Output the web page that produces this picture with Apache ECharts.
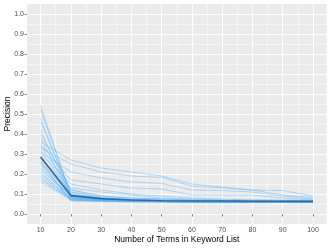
<!DOCTYPE html>
<html><head><meta charset="utf-8">
<script src="https://cdn.jsdelivr.net/npm/echarts@6/dist/echarts.min.js"></script>
<style>html,body{margin:0;padding:0;background:#fff}#c{width:332px;height:249px}</style>
</head><body><div id="c"></div>
<script>
const xValues = [10,20,30,40,50,60,70,80,90,100];
const xTicks = [10,20,30,40,50,60,70,80,90,100];
const xMinor = [15,25,35,45,55,65,75,85,95];
const yTicks = [0,0.1,0.2,0.3,0.4,0.5,0.6,0.7,0.8,0.9,1.0];
const yMinor = [0.05,0.15,0.25,0.35,0.45,0.55,0.65,0.75,0.85,0.95];

const s1 = [0.54,0.09,0.07,0.065,0.062,0.06,0.06,0.06,0.06,0.06];
const s2 = [0.52,0.10,0.075,0.07,0.065,0.063,0.062,0.062,0.061,0.06];
const s3 = [0.48,0.08,0.07,0.065,0.063,0.062,0.061,0.061,0.06,0.06];
const s4 = [0.46,0.11,0.08,0.07,0.068,0.066,0.065,0.064,0.063,0.062];
const s5 = [0.42,0.09,0.072,0.066,0.063,0.062,0.061,0.06,0.06,0.06];
const s6 = [0.40,0.12,0.09,0.08,0.075,0.07,0.068,0.066,0.065,0.064];
const s7 = [0.38,0.085,0.07,0.066,0.064,0.063,0.062,0.061,0.061,0.06];
const s8 = [0.36,0.27,0.23,0.21,0.19,0.15,0.135,0.12,0.117,0.09];
const s9 = [0.33,0.25,0.21,0.19,0.183,0.14,0.13,0.12,0.095,0.082];
const s10 = [0.31,0.21,0.18,0.16,0.153,0.12,0.117,0.11,0.09,0.075];
const s11 = [0.35,0.17,0.15,0.13,0.125,0.095,0.095,0.095,0.08,0.07];
const s12 = [0.30,0.15,0.12,0.10,0.09,0.08,0.075,0.07,0.07,0.068];
const s13 = [0.28,0.13,0.11,0.095,0.08,0.075,0.07,0.07,0.068,0.066];
const s14 = [0.34,0.12,0.09,0.08,0.075,0.07,0.068,0.066,0.065,0.064];
const s15 = [0.32,0.10,0.08,0.07,0.066,0.064,0.063,0.062,0.062,0.061];
const s16 = [0.29,0.09,0.075,0.07,0.066,0.064,0.063,0.062,0.061,0.06];
const s17 = [0.27,0.08,0.07,0.065,0.063,0.062,0.061,0.061,0.06,0.06];
const s18 = [0.26,0.095,0.08,0.072,0.068,0.065,0.064,0.063,0.062,0.061];
const s19 = [0.25,0.07,0.065,0.062,0.061,0.06,0.06,0.06,0.06,0.059];
const s20 = [0.24,0.085,0.072,0.067,0.064,0.062,0.061,0.061,0.06,0.06];
const s21 = [0.23,0.075,0.068,0.064,0.062,0.061,0.06,0.06,0.06,0.059];
const s22 = [0.22,0.09,0.075,0.068,0.065,0.063,0.062,0.061,0.061,0.06];
const s23 = [0.21,0.07,0.065,0.062,0.061,0.06,0.06,0.06,0.059,0.059];
const s24 = [0.20,0.08,0.07,0.065,0.063,0.062,0.061,0.06,0.06,0.06];
const s25 = [0.19,0.075,0.068,0.064,0.062,0.061,0.06,0.06,0.06,0.059];
const s26 = [0.18,0.07,0.065,0.062,0.061,0.06,0.06,0.06,0.059,0.059];
const s27 = [0.17,0.08,0.07,0.066,0.064,0.062,0.061,0.061,0.06,0.06];
const s28 = [0.16,0.072,0.066,0.063,0.062,0.061,0.06,0.06,0.06,0.059];
const s29 = [0.28,0.11,0.085,0.075,0.07,0.068,0.066,0.065,0.064,0.063];
const s30 = [0.26,0.065,0.062,0.06,0.06,0.06,0.059,0.059,0.059,0.058];
const meanLine = [0.285,0.092,0.077,0.07,0.066,0.065,0.065,0.064,0.064,0.063];

const runs = [s1,s2,s3,s4,s5,s6,s7,s8,s9,s10,s11,s12,s13,s14,s15,s16,s17,s18,s19,s20,s21,s22,s23,s24,s25,s26,s27,s28,s29,s30];

const font = 'Liberation Sans, Arial, Helvetica, sans-serif';
const pairs = arr => xValues.map((x,i)=>[x,arr[i]]);

const gridLines = [];
xTicks.forEach(v=>gridLines.push({xAxis:v,lineStyle:{color:'#fff',width:1.07,type:'solid'}}));
xMinor.forEach(v=>gridLines.push({xAxis:v,lineStyle:{color:'#fff',width:0.53,type:'solid'}}));
yTicks.forEach(v=>gridLines.push({yAxis:v,lineStyle:{color:'#fff',width:1.07,type:'solid'}}));
yMinor.forEach(v=>gridLines.push({yAxis:v,lineStyle:{color:'#fff',width:0.53,type:'solid'}}));

const series = [{
  type:'line', data:[], z:0, zlevel:0, silent:true,
  markLine:{silent:true, z:0, symbol:['none','none'], label:{show:false}, animation:false, data:gridLines}
}];
runs.forEach(r=>series.push({
  type:'line', data:pairs(r), showSymbol:false, silent:true, z:5,
  lineStyle:{color:'rgba(86,177,247,0.55)', width:0.8}
}));
series.push({type:'line', data:pairs(meanLine), showSymbol:false, silent:true, z:6,
  lineStyle:{color:'#35699B', width:1.6}});

const chart = echarts.init(document.getElementById('c'), null, {renderer:'canvas'});
chart.setOption({
  animation:false,
  grid:{left:27, right:5.4, top:4, bottom:25, show:true, backgroundColor:'#EBEBEB', borderWidth:0,
    containLabel:false, outerBoundsMode:'none'},
  xAxis:{type:'value', min:5.5, max:104.5,
    name:'Number of Terms in Keyword List', nameLocation:'middle', nameGap:11, nameMoveOverlap:false,
    nameTextStyle:{fontFamily:font, fontSize:8.5, color:'#000'},
    axisLine:{show:false}, splitLine:{show:false},
    axisTick:{show:true, length:2.5, lineStyle:{color:'#333', width:0.6}, customValues:xTicks},
    axisLabel:{customValues:xTicks, fontFamily:font, fontSize:7, color:'#4D4D4D', margin:2.5}
  },
  yAxis:{type:'value', min:-0.05, max:1.05,
    name:'Precision', nameLocation:'middle', nameGap:15, nameRotate:90, nameMoveOverlap:false,
    nameTextStyle:{fontFamily:font, fontSize:8.5, color:'#000'},
    axisLine:{show:false}, splitLine:{show:false},
    axisTick:{show:true, length:2.5, lineStyle:{color:'#333', width:0.6}, customValues:yTicks},
    axisLabel:{customValues:yTicks, fontFamily:font, fontSize:7, color:'#4D4D4D', margin:3,
      formatter:v=>v.toFixed(1)}
  },
  series:series
});
</script></body></html>
